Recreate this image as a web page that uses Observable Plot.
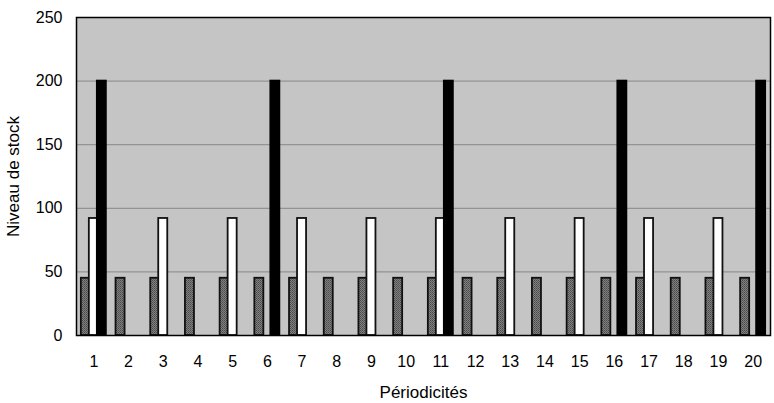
<!DOCTYPE html>
<html>
<head>
<meta charset="utf-8">
<script src="https://cdn.jsdelivr.net/npm/d3@7"></script>
<script src="https://cdn.jsdelivr.net/npm/@observablehq/plot@0.6"></script>
<style>
  html, body { margin: 0; padding: 0; background: #fff; }
  #chart svg { display: block; }
  #chart svg [aria-label="x-axis label"] text, #chart svg [aria-label="y-axis label"] text { font-size: 17px; }
</style>
</head>
<body>
<div id="chart"></div>
<script>
// Data
const periods = d3.range(1, 21);
const greyValues = periods.map(() => 45);                 // every period
const whitePeriods = [1, 3, 5, 7, 9, 11, 13, 15, 17, 19];
const whiteValue = 92;
const blackPeriods = [1, 6, 11, 16, 20];
const blackValue = 200;
const yTicks = [0, 50, 100, 150, 200, 250];
const gridValues = [50, 100, 150, 200];

const greyData = periods.map((p, i) => ({period: p, value: greyValues[i]}));
const whiteData = whitePeriods.map(p => ({period: p, value: whiteValue}));
const blackData = blackPeriods.map(p => ({period: p, value: blackValue}));

const defs = () => {
  const d = d3.create("svg:defs");
  const bg = d.append("pattern").attr("id", "bgpat").attr("width", 2).attr("height", 2)
    .attr("patternUnits", "userSpaceOnUse");
  bg.append("rect").attr("width", 2).attr("height", 2).attr("fill", "#e0e0e0");
  bg.append("rect").attr("width", 1).attr("height", 1).attr("fill", "#a2a2a2");
  bg.append("rect").attr("x", 1).attr("y", 1).attr("width", 1).attr("height", 1).attr("fill", "#b0b0b0");
  const gp = d.append("pattern").attr("id", "greypat").attr("width", 2).attr("height", 2)
    .attr("patternUnits", "userSpaceOnUse");
  gp.append("rect").attr("width", 2).attr("height", 2).attr("fill", "#808080");
  gp.append("rect").attr("width", 1).attr("height", 1).attr("fill", "#4a4a4a");
  gp.append("rect").attr("x", 1).attr("y", 1).attr("width", 1).attr("height", 1).attr("fill", "#5a5a5a");
  return d.node();
};

const chart = Plot.plot({
  width: 774,
  height: 403,
  marginLeft: 76,
  marginRight: 4,
  marginTop: 17,
  marginBottom: 68,
  style: {fontFamily: "'Liberation Sans', Arial, sans-serif", fontSize: "16px", color: "#000", background: "#fff"},
  x: {
    type: "band",
    domain: periods,
    round: false,
    paddingInner: 0.74,
    paddingOuter: 0.37,
    label: "Périodicités",
    labelAnchor: "center",
    labelArrow: "none",
    labelOffset: 62,
    tickSize: 0,
    tickPadding: 20
  },
  y: {
    domain: [0, 250],
    ticks: yTicks,
    label: "Niveau de stock",
    labelAnchor: "center",
    labelArrow: "none",
    labelOffset: 70,
    tickSize: 0,
    tickPadding: 14
  },
  marks: [
    defs,
    Plot.frame({fill: "url(#bgpat)", stroke: null}),
    Plot.ruleY(gridValues, {stroke: "#555", strokeWidth: 1, strokeOpacity: 0.55}),
    Plot.barY(greyData, {x: "period", y: "value", dx: -8, fill: "url(#greypat)", stroke: "#111", strokeWidth: 1.8}),
    Plot.barY(whiteData, {x: "period", y: "value", dx: 0, fill: "#fff", stroke: "#111", strokeWidth: 1.8}),
    Plot.barY(blackData, {x: "period", y: "value", dx: 8, fill: "#000", stroke: "#000", strokeWidth: 1.8}),
    Plot.frame({stroke: "#000", strokeWidth: 1.5})
  ]
});
document.getElementById("chart").appendChild(chart);
</script>
</body>
</html>
